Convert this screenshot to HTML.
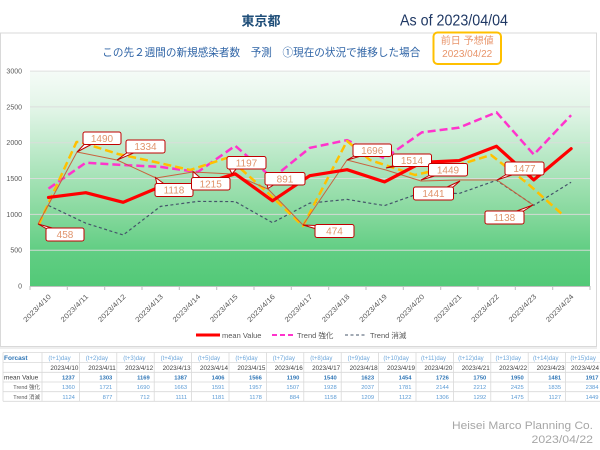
<!DOCTYPE html>
<html><head><meta charset="utf-8"><style>
html,body{margin:0;padding:0;background:#fff;}
svg{display:block;}
text{font-family:"Liberation Sans","Noto Sans CJK JP",sans-serif;}
</style></head><body>
<svg width="600" height="450" viewBox="0 0 600 450" xmlns="http://www.w3.org/2000/svg">
<defs>
<linearGradient id="bg" x1="0" y1="0" x2="0" y2="1">
<stop offset="0" stop-color="#f5fbf7"/>
<stop offset="0.17" stop-color="#e3f5e8"/>
<stop offset="0.33" stop-color="#c5ecd0"/>
<stop offset="0.5" stop-color="#a5e2b6"/>
<stop offset="0.67" stop-color="#85d89c"/>
<stop offset="0.83" stop-color="#62ce84"/>
<stop offset="1" stop-color="#52c977"/>
</linearGradient>
</defs>
<!-- titles -->
<text x="241.5" y="25.5" font-size="13" font-weight="bold" fill="#1f4e79" textLength="39" lengthAdjust="spacingAndGlyphs">東京都</text>
<text x="400" y="25.5" font-size="16" fill="#1f3864" textLength="108" lengthAdjust="spacingAndGlyphs">As of 2023/04/04</text>
<!-- card -->
<rect x="0" y="346" width="597" height="3" fill="#eeeeee"/>
<rect x="0.5" y="33" width="596" height="313.5" fill="#ffffff" stroke="#d9d9d9" stroke-width="1"/>
<text x="102.3" y="56" font-size="11" fill="#2f64a6" textLength="318" lengthAdjust="spacingAndGlyphs">この先２週間の新規感染者数　予測　①現在の状況で推移した場合</text>
<rect x="433.5" y="32.5" width="67.5" height="31.5" rx="4" fill="#ffffff" stroke="#ffc000" stroke-width="2"/>
<text x="467.2" y="44" font-size="10" fill="#e8956b" text-anchor="middle">前日 予想値</text>
<text x="467.2" y="57" font-size="10" fill="#e8956b" text-anchor="middle">2023/04/22</text>
<!-- plot bg -->
<rect x="30" y="71" width="560" height="215" fill="url(#bg)"/>
<g stroke="#dcdcdc" stroke-width="1" opacity="0.9">
<line x1="30" y1="71.1" x2="590" y2="71.1"/>
<line x1="30" y1="106.9" x2="590" y2="106.9"/>
<line x1="30" y1="142.7" x2="590" y2="142.7"/>
<line x1="30" y1="178.5" x2="590" y2="178.5"/>
<line x1="30" y1="214.4" x2="590" y2="214.4"/>
<line x1="30" y1="250.2" x2="590" y2="250.2"/>
</g>
<line x1="30" y1="286.5" x2="590" y2="286.5" stroke="#bfbfbf" stroke-width="1"/>
<g stroke="#bfbfbf" stroke-width="1">
<line x1="30" y1="286" x2="30" y2="290"/><line x1="67.3" y1="286" x2="67.3" y2="290"/><line x1="104.7" y1="286" x2="104.7" y2="290"/><line x1="142" y1="286" x2="142" y2="290"/><line x1="179.3" y1="286" x2="179.3" y2="290"/><line x1="216.7" y1="286" x2="216.7" y2="290"/><line x1="254" y1="286" x2="254" y2="290"/><line x1="291.3" y1="286" x2="291.3" y2="290"/><line x1="328.7" y1="286" x2="328.7" y2="290"/><line x1="366" y1="286" x2="366" y2="290"/><line x1="403.3" y1="286" x2="403.3" y2="290"/><line x1="440.7" y1="286" x2="440.7" y2="290"/><line x1="478" y1="286" x2="478" y2="290"/><line x1="515.3" y1="286" x2="515.3" y2="290"/><line x1="552.7" y1="286" x2="552.7" y2="290"/><line x1="590" y1="286" x2="590" y2="290"/>
</g>
<!-- y labels -->
<g font-size="7" fill="#595959" text-anchor="end">
<text x="22" y="73.6">3000</text>
<text x="22" y="109.4">2500</text>
<text x="22" y="145.2">2000</text>
<text x="22" y="181">1500</text>
<text x="22" y="216.9">1000</text>
<text x="22" y="252.7">500</text>
<text x="22" y="288.5">0</text>
</g>
<!-- x labels -->
<g font-size="7" fill="#595959" text-anchor="end">
<text transform="translate(51.5,297) rotate(-45)" textLength="36" lengthAdjust="spacingAndGlyphs">2023/4/10</text>
<text transform="translate(88.8,297) rotate(-45)" textLength="36" lengthAdjust="spacingAndGlyphs">2023/4/11</text>
<text transform="translate(126.2,297) rotate(-45)" textLength="36" lengthAdjust="spacingAndGlyphs">2023/4/12</text>
<text transform="translate(163.5,297) rotate(-45)" textLength="36" lengthAdjust="spacingAndGlyphs">2023/4/13</text>
<text transform="translate(200.8,297) rotate(-45)" textLength="36" lengthAdjust="spacingAndGlyphs">2023/4/14</text>
<text transform="translate(238.2,297) rotate(-45)" textLength="36" lengthAdjust="spacingAndGlyphs">2023/4/15</text>
<text transform="translate(275.5,297) rotate(-45)" textLength="36" lengthAdjust="spacingAndGlyphs">2023/4/16</text>
<text transform="translate(312.8,297) rotate(-45)" textLength="36" lengthAdjust="spacingAndGlyphs">2023/4/17</text>
<text transform="translate(350.1,297) rotate(-45)" textLength="36" lengthAdjust="spacingAndGlyphs">2023/4/18</text>
<text transform="translate(387.5,297) rotate(-45)" textLength="36" lengthAdjust="spacingAndGlyphs">2023/4/19</text>
<text transform="translate(424.8,297) rotate(-45)" textLength="36" lengthAdjust="spacingAndGlyphs">2023/4/20</text>
<text transform="translate(462.1,297) rotate(-45)" textLength="36" lengthAdjust="spacingAndGlyphs">2023/4/21</text>
<text transform="translate(499.5,297) rotate(-45)" textLength="36" lengthAdjust="spacingAndGlyphs">2023/4/22</text>
<text transform="translate(536.8,297) rotate(-45)" textLength="36" lengthAdjust="spacingAndGlyphs">2023/4/23</text>
<text transform="translate(574.1,297) rotate(-45)" textLength="36" lengthAdjust="spacingAndGlyphs">2023/4/24</text>
</g>
<!-- series -->
<polyline fill="none" stroke="#44546a" stroke-width="1.2" stroke-dasharray="3,2.5" stroke-linejoin="round"
points="48.5,205.5 85.8,223.2 123.2,235 160.5,206.4 197.8,201.4 235.2,201.6 272.5,222.7 309.8,203.1 347.1,199.4 384.5,205.6 421.8,192.5 459.1,193.5 496.5,180.3 533.8,205.3 571.1,182.2"/>
<polyline fill="none" stroke="#ff33cc" stroke-width="2.5" stroke-dasharray="8,4" stroke-linejoin="round"
points="48.5,188.6 85.8,162.7 123.2,165 160.5,166.9 197.8,172 235.2,145.8 272.5,178.1 309.8,147.9 347.1,140.1 384.5,158.4 421.8,132.4 459.1,127.6 496.5,112.3 533.8,154.6 571.1,115.2"/>
<polyline fill="none" stroke="#ffc000" stroke-width="2.5" stroke-dasharray="8,4" stroke-linejoin="round"
points="39,224 76.5,142 80,142 118,154 155,162 190,170 228,157.5 268,193 303,226 347,141 370,160 415,175 455,166 491,155 527,183 563,215"/>
<polyline fill="none" stroke="#c9633f" stroke-width="1" stroke-linejoin="round"
points="38,224 77,152 117,160 156,178 193,172 232,174 268,189 303,225 347,160 386,170 421,181 459,180 497,180 533,205"/>
<polyline fill="none" stroke="#ff0000" stroke-width="3.2" stroke-linejoin="round" stroke-linecap="round"
points="48.5,197.4 85.8,192.7 123.2,202.3 160.5,186.6 197.8,185.3 235.2,173.8 272.5,200.8 309.8,175.7 347.1,169.7 384.5,181.9 421.8,162.4 459.1,160.6 496.5,146.3 533.8,179.9 571.1,148.7"/>
<!-- callouts -->
<g stroke="#c00000" stroke-width="1" fill="#ffffff">
<polygon points="38,224 47,229 56,229"/><rect x="46" y="228" width="38" height="13" rx="2"/>
<polygon points="77,152 85,143.5 93,143.5"/><rect x="83" y="132" width="38" height="12.5" rx="2"/>
<polygon points="117,160 128,152 136,152"/><rect x="126" y="140" width="39" height="13" rx="2"/>
<polygon points="155.5,177.5 157,184.5 165,184.5"/><rect x="155" y="183.5" width="38" height="13" rx="2"/>
<polygon points="193,171.5 193,178.5 201,178.5"/><rect x="191.5" y="177.5" width="38.5" height="12.5" rx="2"/>
<polygon points="232,174 229,168 237,168"/><rect x="227" y="156.5" width="39" height="12.5" rx="2"/>
<polygon points="268,188.5 267,184 275,184"/><rect x="265" y="172.5" width="40" height="12.5" rx="2"/>
<polygon points="303,225 316,225.5 320,230"/><rect x="315" y="224.5" width="39" height="13" rx="2"/>
<polygon points="347,160 355,155.5 363,155.5"/><rect x="353" y="144" width="38.5" height="12.5" rx="2"/>
<polygon points="386,168 394,165.5 402,165.5"/><rect x="392.5" y="154" width="39" height="12.5" rx="2"/>
<polygon points="421,180 430,175 438,175"/><rect x="428.5" y="163.5" width="39" height="12.5" rx="2"/>
<polygon points="460,181 445,188 452,188"/><rect x="413.5" y="187" width="40" height="13" rx="2"/>
<polygon points="497,180 507,174 515,174"/><rect x="505" y="162" width="39" height="13" rx="2"/>
<polygon points="533,205 514,212 522,212"/><rect x="485" y="211" width="39" height="13" rx="2"/>
</g>
<g font-size="10" fill="#e0946c" text-anchor="middle">
<text x="65" y="238.2">458</text>
<text x="102" y="141.9">1490</text>
<text x="145.5" y="150.2">1334</text>
<text x="174" y="193.7">1118</text>
<text x="210.7" y="187.4">1215</text>
<text x="246.5" y="166.4">1197</text>
<text x="285" y="182.4">891</text>
<text x="334.5" y="234.7">474</text>
<text x="372.2" y="153.9">1696</text>
<text x="412" y="163.9">1514</text>
<text x="448" y="173.4">1449</text>
<text x="433.5" y="197.2">1441</text>
<text x="524.5" y="172.2">1477</text>
<text x="504.5" y="221.2">1138</text>
</g>
<!-- legend -->
<line x1="196" y1="335" x2="220" y2="335" stroke="#ff0000" stroke-width="3"/>
<text x="222" y="337.8" font-size="7.5" fill="#595959">mean Value</text>
<line x1="272" y1="335" x2="295" y2="335" stroke="#ff33cc" stroke-width="2" stroke-dasharray="5,3"/>
<text x="297" y="337.8" font-size="7.5" fill="#595959">Trend 強化</text>
<line x1="345" y1="335" x2="367" y2="335" stroke="#44546a" stroke-width="1" stroke-dasharray="3,2.5"/>
<text x="370" y="337.8" font-size="7.5" fill="#595959">Trend 消滅</text>
<!-- table -->
<g stroke="#d9d9d9" stroke-width="0.8">
<line x1="3" y1="352.5" x2="600" y2="352.5"/>
<line x1="3" y1="362.5" x2="600" y2="362.5"/>
<line x1="3" y1="372.3" x2="600" y2="372.3"/>
<line x1="3" y1="382" x2="600" y2="382"/>
<line x1="3" y1="391.7" x2="600" y2="391.7"/>
<line x1="3" y1="401.3" x2="600" y2="401.3"/>
<line x1="3" y1="352.5" x2="3" y2="401.3"/>
<line x1="42" y1="352.5" x2="42" y2="401.3"/><line x1="79.4" y1="352.5" x2="79.4" y2="401.3"/><line x1="116.8" y1="352.5" x2="116.8" y2="401.3"/><line x1="154.2" y1="352.5" x2="154.2" y2="401.3"/><line x1="191.6" y1="352.5" x2="191.6" y2="401.3"/><line x1="229" y1="352.5" x2="229" y2="401.3"/><line x1="266.4" y1="352.5" x2="266.4" y2="401.3"/><line x1="303.8" y1="352.5" x2="303.8" y2="401.3"/><line x1="341.2" y1="352.5" x2="341.2" y2="401.3"/><line x1="378.6" y1="352.5" x2="378.6" y2="401.3"/><line x1="416" y1="352.5" x2="416" y2="401.3"/><line x1="453.4" y1="352.5" x2="453.4" y2="401.3"/><line x1="490.8" y1="352.5" x2="490.8" y2="401.3"/><line x1="528.2" y1="352.5" x2="528.2" y2="401.3"/><line x1="565.6" y1="352.5" x2="565.6" y2="401.3"/>
</g>
<text x="4" y="360" font-size="6.5" font-weight="bold" fill="#2e75b6">Forcast</text>
<text x="4" y="379.6" font-size="6.5" fill="#404040">mean Value</text>
<text x="40" y="389.2" font-size="5.5" fill="#595959" text-anchor="end">Trend 強化</text>
<text x="40" y="398.9" font-size="5.5" fill="#595959" text-anchor="end">Trend 消滅</text>
<g font-size="6" fill="#6fa8dc" text-anchor="middle">
<text x="59.5" y="360">(t+1)day</text><text x="96.9" y="360">(t+2)day</text><text x="134.3" y="360">(t+3)day</text><text x="171.7" y="360">(t+4)day</text><text x="209.1" y="360">(t+5)day</text><text x="246.5" y="360">(t+6)day</text><text x="283.9" y="360">(t+7)day</text><text x="321.3" y="360">(t+8)day</text><text x="358.7" y="360">(t+9)day</text><text x="396.1" y="360">(t+10)day</text><text x="433.5" y="360">(t+11)day</text><text x="470.9" y="360">(t+12)day</text><text x="508.3" y="360">(t+13)day</text><text x="545.7" y="360">(t+14)day</text><text x="583.1" y="360">(t+15)day</text>
</g>
<g font-size="6.3" fill="#404040" text-anchor="end">
<text x="78.4" y="369.9">2023/4/10</text><text x="115.8" y="369.9">2023/4/11</text><text x="153.2" y="369.9">2023/4/12</text><text x="190.6" y="369.9">2023/4/13</text><text x="228" y="369.9">2023/4/14</text><text x="265.4" y="369.9">2023/4/15</text><text x="302.8" y="369.9">2023/4/16</text><text x="340.2" y="369.9">2023/4/17</text><text x="377.6" y="369.9">2023/4/18</text><text x="415" y="369.9">2023/4/19</text><text x="452.4" y="369.9">2023/4/20</text><text x="489.8" y="369.9">2023/4/21</text><text x="527.2" y="369.9">2023/4/22</text><text x="564.6" y="369.9">2023/4/23</text><text x="599" y="369.9">2023/4/24</text>
</g>
<g font-size="5.8" font-weight="bold" fill="#2e75b6" text-anchor="end">
<text x="74.9" y="379.5">1237</text><text x="112.3" y="379.5">1303</text><text x="149.7" y="379.5">1169</text><text x="187.1" y="379.5">1387</text><text x="224.5" y="379.5">1406</text><text x="261.9" y="379.5">1566</text><text x="299.3" y="379.5">1190</text><text x="336.7" y="379.5">1540</text><text x="374.1" y="379.5">1623</text><text x="411.5" y="379.5">1454</text><text x="448.9" y="379.5">1726</text><text x="486.3" y="379.5">1750</text><text x="523.7" y="379.5">1950</text><text x="561.1" y="379.5">1481</text><text x="598.5" y="379.5">1917</text>
</g>
<g font-size="5.8" fill="#5b9bd5" text-anchor="end">
<text x="74.9" y="389.2">1360</text><text x="112.3" y="389.2">1721</text><text x="149.7" y="389.2">1690</text><text x="187.1" y="389.2">1663</text><text x="224.5" y="389.2">1591</text><text x="261.9" y="389.2">1957</text><text x="299.3" y="389.2">1507</text><text x="336.7" y="389.2">1928</text><text x="374.1" y="389.2">2037</text><text x="411.5" y="389.2">1781</text><text x="448.9" y="389.2">2144</text><text x="486.3" y="389.2">2212</text><text x="523.7" y="389.2">2425</text><text x="561.1" y="389.2">1835</text><text x="598.5" y="389.2">2384</text>
<text x="74.9" y="398.9">1124</text><text x="112.3" y="398.9">877</text><text x="149.7" y="398.9">712</text><text x="187.1" y="398.9">1111</text><text x="224.5" y="398.9">1181</text><text x="261.9" y="398.9">1178</text><text x="299.3" y="398.9">884</text><text x="336.7" y="398.9">1158</text><text x="374.1" y="398.9">1209</text><text x="411.5" y="398.9">1122</text><text x="448.9" y="398.9">1306</text><text x="486.3" y="398.9">1292</text><text x="523.7" y="398.9">1475</text><text x="561.1" y="398.9">1127</text><text x="598.5" y="398.9">1449</text>
</g>
<!-- footer -->
<text x="593" y="429" font-size="11" fill="#a6a6a6" text-anchor="end" textLength="141" lengthAdjust="spacingAndGlyphs">Heisei Marco Planning Co.</text>
<text x="593" y="443" font-size="11" fill="#a6a6a6" text-anchor="end" textLength="61.5" lengthAdjust="spacingAndGlyphs">2023/04/22</text>
</svg>
</body></html>
